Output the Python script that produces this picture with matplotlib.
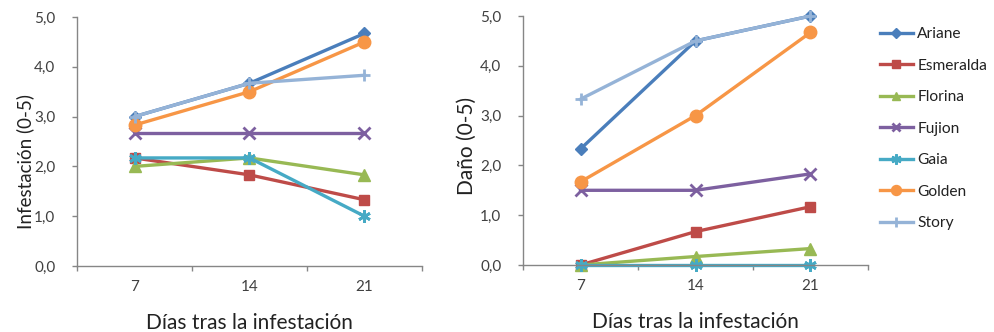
import matplotlib
matplotlib.use("Agg")
import matplotlib.pyplot as plt
from matplotlib.ticker import FixedLocator, FuncFormatter

plt.rcParams['font.family'] = ['Lato', 'DejaVu Sans']

days = ["7", "14", "21"]
varieties = ["Ariane", "Esmeralda", "Florina", "Fujion", "Gaia", "Golden", "Story"]

infestacion_ariane = [3.00, 3.67, 4.67]
infestacion_esmeralda = [2.17, 1.83, 1.33]
infestacion_florina = [2.00, 2.17, 1.83]
infestacion_fujion = [2.67, 2.67, 2.67]
infestacion_gaia = [2.17, 2.17, 1.00]
infestacion_golden = [2.83, 3.50, 4.50]
infestacion_story = [3.00, 3.67, 3.83]

dano_ariane = [2.33, 4.50, 5.00]
dano_esmeralda = [0.00, 0.67, 1.17]
dano_florina = [0.00, 0.17, 0.33]
dano_fujion = [1.50, 1.50, 1.83]
dano_gaia = [0.00, 0.00, 0.00]
dano_golden = [1.67, 3.00, 4.67]
dano_story = [3.33, 4.50, 5.00]

infestacion = [infestacion_ariane, infestacion_esmeralda, infestacion_florina,
               infestacion_fujion, infestacion_gaia, infestacion_golden,
               infestacion_story]
dano = [dano_ariane, dano_esmeralda, dano_florina, dano_fujion, dano_gaia,
        dano_golden, dano_story]

colors = ["#4A7EBB", "#BE4B48", "#98B954", "#7D60A0", "#46AAC5", "#F79646", "#95B3D7"]
markers = ["D", "s", "^", "x", (6, 2, 0), "o", "+"]
msizes = [6, 7.5, 8, 8, 9, 9, 9]

axis_gray = "#868686"
text_gray = "#404040"

fig = plt.figure(figsize=(9.95, 3.32), dpi=100)
ax1 = fig.add_axes([77 / 995, 66 / 332, 345 / 995, 249 / 332])
ax2 = fig.add_axes([523 / 995, 67 / 332, 345 / 995, 249 / 332])

comma = FuncFormatter(lambda v, p: f"{v:.1f}".replace(".", ","))


def draw(ax, data, ylabel, ylabel_size, label_xy):
    x = range(len(days))
    handles = []
    for vals, name, c, m, ms in zip(data, varieties, colors, markers, msizes):
        mew = 2.0 if m in ("x", "+") or isinstance(m, tuple) else 1.0
        h, = ax.plot(x, vals, color=c, lw=2.4, marker=m, markersize=ms,
                     markeredgewidth=mew, markerfacecolor=c,
                     markeredgecolor=c, label=name, clip_on=False)
        handles.append(h)
    ax.set_xlim(-0.5, len(days) - 0.5)
    ax.set_ylim(0, 5)
    for s in ("top", "right"):
        ax.spines[s].set_visible(False)
    for s in ("left", "bottom"):
        ax.spines[s].set_color(axis_gray)
        ax.spines[s].set_linewidth(1.0)
    ax.yaxis.set_major_locator(FixedLocator([0, 1, 2, 3, 4, 5]))
    ax.yaxis.set_major_formatter(comma)
    ax.xaxis.set_major_locator(FixedLocator([i - 0.5 for i in range(len(days) + 1)]))
    ax.xaxis.set_major_formatter(FuncFormatter(lambda v, p: ""))
    ax.xaxis.set_minor_locator(FixedLocator(list(range(len(days)))))
    ax.set_xticklabels(days, minor=True)
    ax.tick_params(axis="x", which="major", length=3.5, width=1.0, color=axis_gray, direction="out")
    ax.tick_params(axis="x", which="minor", length=0, pad=10, labelsize=11, labelcolor=text_gray)
    ax.tick_params(axis="y", length=3.5, width=1.0, color=axis_gray, direction="out",
                   labelsize=11, labelcolor=text_gray, pad=12)
    ax.set_ylabel(ylabel, fontsize=ylabel_size, color="#222222", va="center")
    ax.yaxis.set_label_coords(*label_xy)
    ax.set_xlabel("Días tras la infestación", fontsize=15, color="#222222", labelpad=14)
    return handles


handles = draw(ax1, infestacion, "Infestación (0-5)", 13.5, (-0.15, 0.42))
draw(ax2, dano, "Daño (0-5)", 15, (-0.162, 0.48))

fig.legend(handles=handles, labels=varieties, loc="upper left",
           bbox_to_anchor=(866 / 995, 1 - 13 / 332), frameon=False,
           fontsize=11.2, handlelength=2.1, handletextpad=0.3,
           labelspacing=1.13, labelcolor="#222222", markerscale=0.8)

fig.savefig("out.png", dpi=100)
